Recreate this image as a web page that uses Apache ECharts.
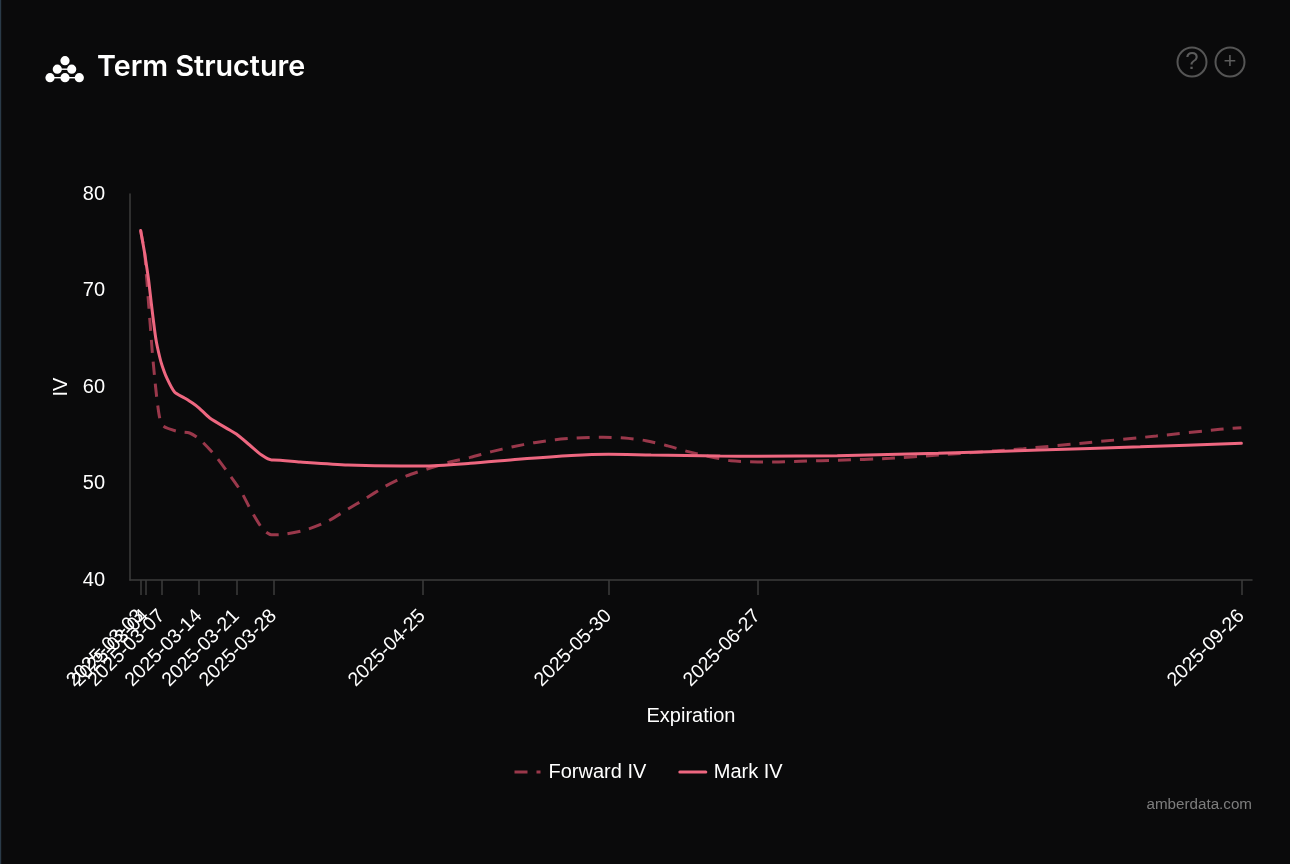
<!DOCTYPE html>
<html>
<head>
<meta charset="utf-8">
<style>html,body{margin:0;padding:0;background:#0a0a0b}#c{width:1290px;height:864px}</style>
<script src="https://cdn.jsdelivr.net/npm/echarts@6/dist/echarts.min.js"></script>
</head>
<body>
<div id="c"></div>
<script>
const tickDates = ['2025-03-03','2025-03-04','2025-03-07','2025-03-14','2025-03-21','2025-03-28','2025-04-25','2025-05-30','2025-06-27','2025-09-26'];
const yTicks = [40,50,60,70,80];

const markDates = ['2025-03-03','2025-03-03T18','2025-03-04','2025-03-04T12','2025-03-05','2025-03-05T15','2025-03-06','2025-03-06T14','2025-03-07','2025-03-07T20','2025-03-09T09','2025-03-11T06','2025-03-12T18','2025-03-14','2025-03-16','2025-03-19T18','2025-03-21','2025-03-23T12','2025-03-25T18','2025-03-27T15','2025-03-28','2025-04-02','2025-04-11','2025-04-21','2025-04-25','2025-05-04','2025-05-13','2025-05-23','2025-05-30','2025-06-07','2025-06-20','2025-06-27','2025-07-12','2025-07-31','2025-08-19','2025-09-07','2025-09-26'];
const markIV = [76.22,73.89,72.97,71.09,68.70,65.91,64.56,63.11,62.28,61.04,59.48,58.86,58.34,57.82,56.79,55.54,55.13,53.99,52.95,52.44,52.44,52.23,51.92,51.81,51.81,52.09,52.51,52.90,53.03,52.95,52.85,52.82,52.88,53.13,53.47,53.81,54.17];

const forwardDates = ['2025-03-03','2025-03-03T18','2025-03-04','2025-03-04T05','2025-03-04T13','2025-03-04T21','2025-03-05T05','2025-03-05T15','2025-03-06T01','2025-03-06T14','2025-03-07T05','2025-03-09T23','2025-03-12T05','2025-03-14T02','2025-03-16T22','2025-03-19T10','2025-03-21T22','2025-03-23T19','2025-03-26','2025-03-27T14','2025-03-30','2025-04-03','2025-04-07','2025-04-11','2025-04-14','2025-04-18','2025-04-22','2025-04-26','2025-04-30','2025-05-04','2025-05-08','2025-05-12','2025-05-16','2025-05-20','2025-05-24','2025-05-29','2025-06-02','2025-06-06','2025-06-10','2025-06-14','2025-06-19','2025-06-22','2025-06-27','2025-07-01','2025-07-05','2025-07-09','2025-07-12','2025-07-22','2025-07-31','2025-08-16','2025-08-28','2025-09-10','2025-09-22','2025-09-26'];
const forwardIV = [76.22,73.89,72.12,70.78,68.29,65.91,63.52,61.04,58.86,56.79,55.96,55.39,55.23,54.58,52.95,51.12,49.15,47.18,45.25,44.69,44.74,45.18,46.04,47.36,48.33,49.71,50.78,51.52,52.20,52.71,53.30,53.81,54.23,54.54,54.72,54.79,54.72,54.44,53.92,53.30,52.67,52.36,52.23,52.23,52.30,52.36,52.40,52.61,52.95,53.61,54.23,54.92,55.62,55.78];

const ts = s => Date.parse(s.length === 10 ? s + 'T00:00:00Z' : s + ':00:00Z');
const pair = (d, v) => d.map((s, i) => [ts(s), v[i]]);
const FONT = '"Liberation Sans", Arial, sans-serif';
const LOGO = [[65,60.7],[57.3,69.2],[71.7,69.2],[50,77.7],[65,77.7],[79.3,77.7]];
const LINKS = [[1,2],[3,4],[4,5]];
const logo = [];
LINKS.forEach(l => logo.push({type:'line',shape:{x1:LOGO[l[0]][0],y1:LOGO[l[0]][1],x2:LOGO[l[1]][0],y2:LOGO[l[1]][1]},style:{stroke:'#fff',lineWidth:1.4}}));
LOGO.forEach(p => logo.push({type:'circle',shape:{cx:p[0],cy:p[1],r:4.6},style:{fill:'#fff'}}));

// The first two expiries overlap their neighbours; ECharts drops overlapping
// end labels, so each of them gets its own coincident axis on the same scale.
const makeXAxis = (dates, extra) => Object.assign({
  type:'value',position:'bottom',min:ts('2025-03-01'),max:ts('2025-09-28'),
  axisLine:{show:false,onZero:false},
  axisTick:{show:true,length:15,customValues:dates.map(ts),lineStyle:{color:'#3d3d3d',width:1.5}},
  axisLabel:{show:true,rotate:45,margin:33,color:'#fff',fontFamily:FONT,fontSize:19.5,hideOverlap:false,
    customValues:dates.map(ts),
    formatter:v => new Date(v).toISOString().slice(0,10)},
  splitLine:{show:false}
}, extra);

const chart = echarts.init(document.getElementById('c'), null, {renderer:'canvas'});
chart.setOption({
  animation:false,
  backgroundColor:'#0a0a0b',
  title:{text:'Term Structure',left:92,top:48,textStyle:{color:'#fff',fontFamily:'Inter',fontWeight:600,fontSize:28.7}},
  grid:{left:130,right:38,top:194,bottom:284},
  legend:{left:513,top:762,padding:0,itemWidth:26,itemHeight:14,itemGap:32,itemStyle:{opacity:0},
    lineStyle:{width:3},
    textStyle:{color:'#fff',fontFamily:FONT,fontSize:20,padding:[0,0,0,3]},
    data:['Forward IV','Mark IV']},
  xAxis:[
    makeXAxis(tickDates.slice(2),{name:'Expiration',nameLocation:'middle',nameGap:126,
      nameTextStyle:{color:'#fff',fontFamily:FONT,fontSize:20},
      axisLine:{show:true,onZero:false,lineStyle:{color:'#3d3d3d',width:1.5}}}),
    makeXAxis(tickDates.slice(0,1)),
    makeXAxis(tickDates.slice(1,2))
  ],
  yAxis:{type:'value',min:yTicks[0],max:yTicks[yTicks.length-1],interval:10,
    name:'IV',nameLocation:'middle',nameGap:59,
    nameTextStyle:{color:'#fff',fontFamily:FONT,fontSize:20},
    axisLine:{show:true,onZero:false,lineStyle:{color:'#3d3d3d',width:1.5}},
    axisTick:{show:false},
    axisLabel:{margin:25,color:'#fff',fontFamily:FONT,fontSize:20},
    splitLine:{show:false}},
  series:[
    {name:'Forward IV',type:'line',xAxisIndex:0,data:pair(forwardDates,forwardIV),showSymbol:false,symbol:'none',smooth:0.25,
      lineStyle:{color:'#9a384b',width:3,type:[13,9]},itemStyle:{color:'#9a384b'}},
    {name:'Mark IV',type:'line',xAxisIndex:0,data:pair(markDates,markIV),showSymbol:false,symbol:'none',smooth:0.25,
      lineStyle:{color:'#ee6780',width:3,cap:'round'},itemStyle:{color:'#ee6780'}}
  ],
  graphic:[
    {type:'rect',shape:{x:0,y:0,width:1.2,height:864},style:{fill:'#2a3a48'},silent:true},
    ...logo,
    {type:'circle',shape:{cx:1192,cy:62,r:14.5},style:{fill:'none',stroke:'#555',lineWidth:2}},
    {type:'circle',shape:{cx:1230,cy:62,r:14.5},style:{fill:'none',stroke:'#555',lineWidth:2}},
    {type:'text',style:{x:1192,y:62,text:'?',fill:'#5c5c5c',font:'24px '+FONT,textAlign:'center',textVerticalAlign:'middle'}},
    {type:'text',style:{x:1230,y:62,text:'+',fill:'#5c5c5c',font:'22px '+FONT,textAlign:'center',textVerticalAlign:'middle'}},
    {type:'text',style:{x:1252,y:805,text:'amberdata.com',fill:'#7d7d7d',font:'15.2px '+FONT,textAlign:'right',textVerticalAlign:'middle'}}
  ]
});
</script>
</body>
</html>
